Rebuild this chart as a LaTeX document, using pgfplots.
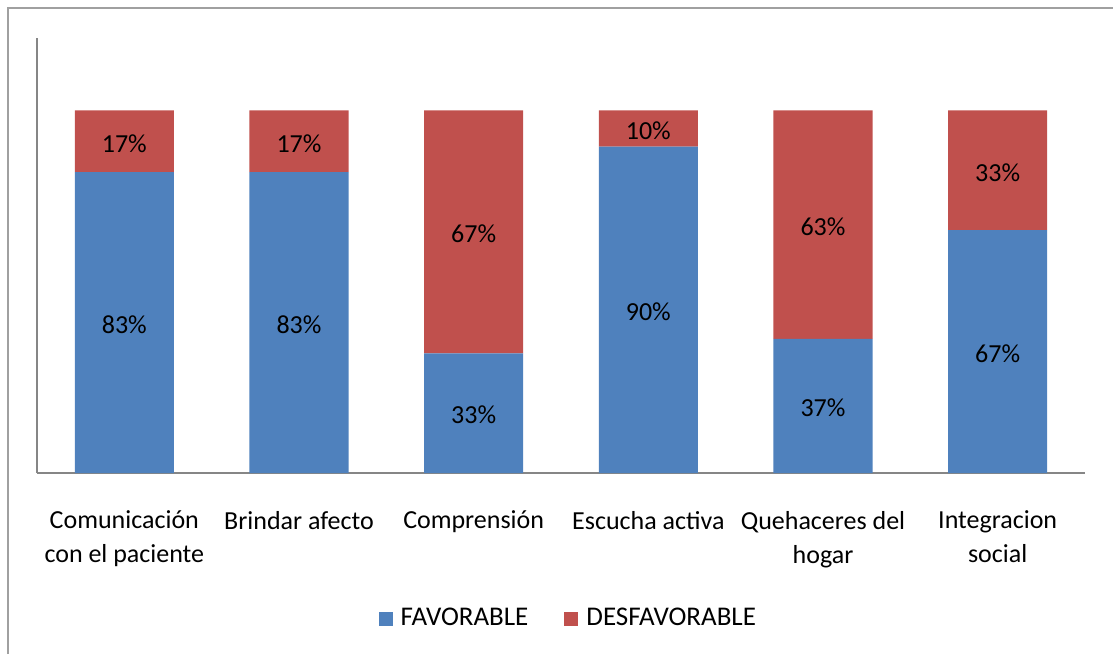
\documentclass[border=0pt]{standalone}
\usepackage{fontspec}
\setmainfont{Carlito}
\usepackage{pgfplots}
\pgfplotsset{compat=1.18}
\definecolor{fav}{HTML}{4F81BD}
\definecolor{desf}{HTML}{C0504D}
\definecolor{axisgray}{HTML}{868686}
\definecolor{framegray}{HTML}{A0A0A0}

\begin{document}
\fontsize{13pt}{17pt}\selectfont
\begin{tikzpicture}
\useasboundingbox (0,0) rectangle (556.5pt,327pt);
% chart frame (only left and top edges are inside the crop)
\draw[framegray, line width=1pt] (4pt,0pt) -- (4pt,323pt) -- (556.5pt,323pt);
\begin{axis}[
    at={(18.5pt,90.5pt)}, anchor=south west,
    scale only axis, width=524pt, height=217.5pt,
    ybar stacked, bar width=0.567,
    xmin=-0.5, xmax=5.5, ymin=0, ymax=120,
    axis x line=bottom, axis y line=left,
    axis line style={draw=axisgray, line width=0.7pt, -},
    ytick=\empty,
    xtick=data,
    xticklabels={{Comunicación\\con el paciente}, Brindar afecto, Comprensión,
                 Escucha activa, {Quehaceres del\\hogar}, {Integracion\\social}},
    major tick length=0pt,
    xticklabel style={align=center, font=\fontsize{13pt}{17pt}\selectfont, yshift=-14.5pt},
    /pgf/number format/assume math mode=true,
    visualization depends on=rawy\as\rawy,
    nodes near coords={\pgfmathprintnumber[fixed,precision=0,assume math mode=true]{\rawy}\%},
    every node near coord/.append style={anchor=center, font=\fontsize{13pt}{17pt}\selectfont, yshift=-1pt},
    legend columns=2,
    legend style={at={(0.508,-0.336)}, anchor=center, draw=none, fill=none,
        font=\fontsize{13.5pt}{17pt}\selectfont,
        /tikz/every even column/.append style={column sep=16pt}},
    legend image code/.code={\fill[#1] (0pt,-3.5pt) rectangle (7pt,3.5pt); \path (9pt,0pt);},
]
\addplot[fill=fav, draw=none] coordinates {(0,83) (1,83) (2,33) (3,90) (4,37) (5,67)};
\addlegendentry{FAVORABLE}
\addplot[fill=desf, draw=none] coordinates {(0,17) (1,17) (2,67) (3,10) (4,63) (5,33)};
\addlegendentry{DESFAVORABLE}
\end{axis}
\end{tikzpicture}
\end{document}
